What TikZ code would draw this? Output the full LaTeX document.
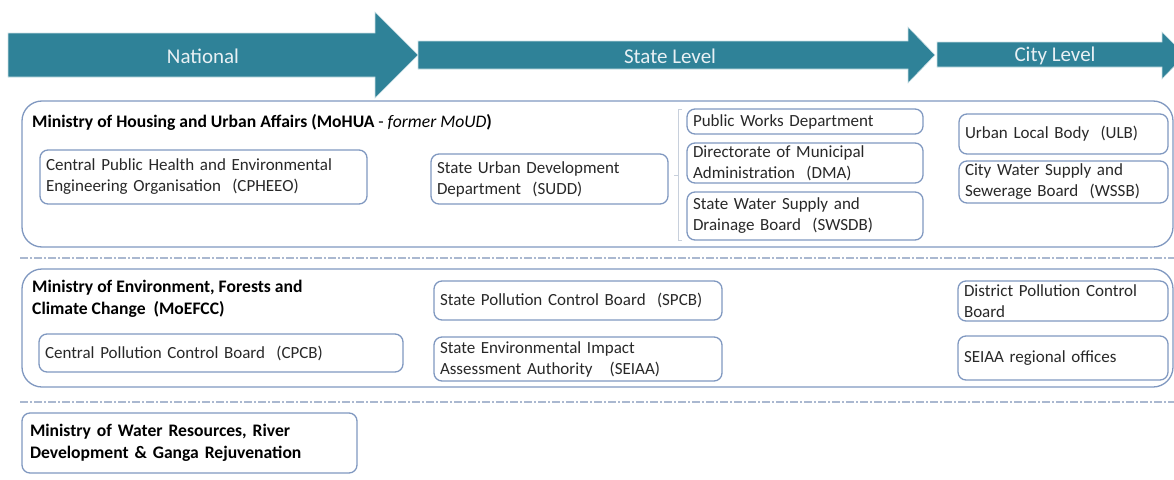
\documentclass[tikz,border=0pt]{standalone}
\usepackage{fontspec}
\setmainfont{Carlito}
\usetikzlibrary{positioning}
\definecolor{bandteal}{RGB}{47,130,152}
\definecolor{bandtxt}{RGB}{232,240,244}
\definecolor{boxline}{RGB}{128,152,192}
\definecolor{boxtxt}{RGB}{40,40,40}
\definecolor{sepline}{RGB}{170,184,208}
\definecolor{bracegray}{RGB}{200,208,220}

\begin{document}
\begin{tikzpicture}[x=1pt, y=-1pt,
    band/.style = {fill=bandteal, draw=white!75!bandteal, line width=0.6pt},
    bandtext/.style = {text=bandtxt, inner sep=0pt,
                font=\fontsize{21}{25}\selectfont},
    group/.style = {draw=boxline, line width=1.3pt, rounded corners=20pt},
    unit/.style = {rectangle, draw=boxline, line width=1.3pt,% boxes of the bodies
                rounded corners=8pt, anchor=north west, align=left,
                inner xsep=6pt, inner ysep=1pt, outer sep=0pt, text=boxtxt,
                font=\fontsize{17}{21}\selectfont},
    head/.style = {anchor=west, inner sep=0pt, align=left,
                font=\bfseries\fontsize{17.6}{21.5}\selectfont},
    sep/.style = {draw=sepline, line width=1.2pt,
                dash pattern=on 8pt off 2pt on 2pt off 2pt},
                        ]
\clip (0,0) rectangle (1174,479);
% level arrows
\filldraw[band] (418,41) -- (908,41) -- (908,27) -- (935,55) -- (908,83)
    -- (908,69) -- (418,69) -- cycle;
\filldraw[band] (937,42) -- (1162,42) -- (1162,32) -- (1185,55) -- (1162,79)
    -- (1162,67) -- (937,67) -- cycle;
\filldraw[band] (8,33) -- (375,33) -- (375,12) -- (418,55) -- (375,98)
    -- (375,77) -- (8,77) -- cycle;
\node[bandtext] (national) at (203,56) {National};
\node[bandtext] (state)    at (670,56) {State Level};
\node[bandtext] (city)     at (1055,56) {City Level};
% separators
\foreach \y in {258,402}
    \draw[sep] (20,\y) -- (1174,\y);
% MoHUA
\draw[group] (22,101) rectangle (1173,247);
\node[head] (mohua) at (32,122)
    {Ministry of Housing and Urban Affairs (MoHUA {\mdseries - \itshape former MoUD})};
\node[unit, text width=315pt, minimum height=54pt] (cpheeo) at (40,150)
    {Central Public Health and Environmental\\Engineering Organisation~ (CPHEEO)};
\node[unit, text width=225pt, minimum height=50pt] (sudd) at (431,154)
    {State Urban Development\\Department~ (SUDD)};
\node[unit, text width=224pt, minimum height=25pt] (pwd) at (687,109)
    {Public Works Department};
\node[unit, text width=224pt, minimum height=40pt,
      below right=9pt and 0pt of pwd.south west] (dma)
    {Directorate of Municipal\\Administration~ (DMA)};
\node[unit, text width=224pt, minimum height=48pt,
      below right=9pt and 0pt of dma.south west] (swsdb)
    {State Water Supply and\\Drainage Board~ (SWSDB)};
\node[unit, text width=197pt, minimum height=40pt] (ulb) at (959,114)
    {Urban Local Body~ (ULB)};
\node[unit, text width=197pt, minimum height=42pt,
      below right=7pt and 0pt of ulb.south west] (wssb)
    {City Water Supply and\\Sewerage Board~ (WSSB)};
\draw[bracegray, line width=0.8pt] (682,109) -- (678,109) -- (678,240) -- (682,240)
    (678,175) -- (674,175);
% MoEFCC
\draw[group] (22,269) rectangle (1173,387);
\node[head] (moefcc) at (32,299)
    {Ministry of Environment, Forests and\\Climate Change~ (MoEFCC)};
\node[unit, text width=352pt, minimum height=38pt] (cpcb) at (39,334)
    {Central Pollution Control Board~ (CPCB)};
\node[unit, text width=276pt, minimum height=39pt] (spcb) at (434,281)
    {State Pollution Control Board~ (SPCB)};
\node[unit, text width=276pt, minimum height=44pt,
      below right=17pt and 0pt of spcb.south west] (seiaa)
    {State Environmental Impact\\Assessment Authority~~ (SEIAA)};
\node[unit, text width=198pt, minimum height=40pt] (dpcb) at (958,281)
    {District Pollution Control\\Board};
\node[unit, text width=198pt, minimum height=44pt,
      below right=15pt and 0pt of dpcb.south west] (seiaar)
    {SEIAA regional offices};
% MoWR
\node[unit, text=black, font=\bfseries\fontsize{17.6}{21.5}\selectfont,
      inner xsep=8pt, text width=319pt, minimum height=60pt] (mowr) at (22,413)
    {Ministry of Water Resources, River\\Development \& Ganga Rejuvenation};
\end{tikzpicture}
\end{document}
